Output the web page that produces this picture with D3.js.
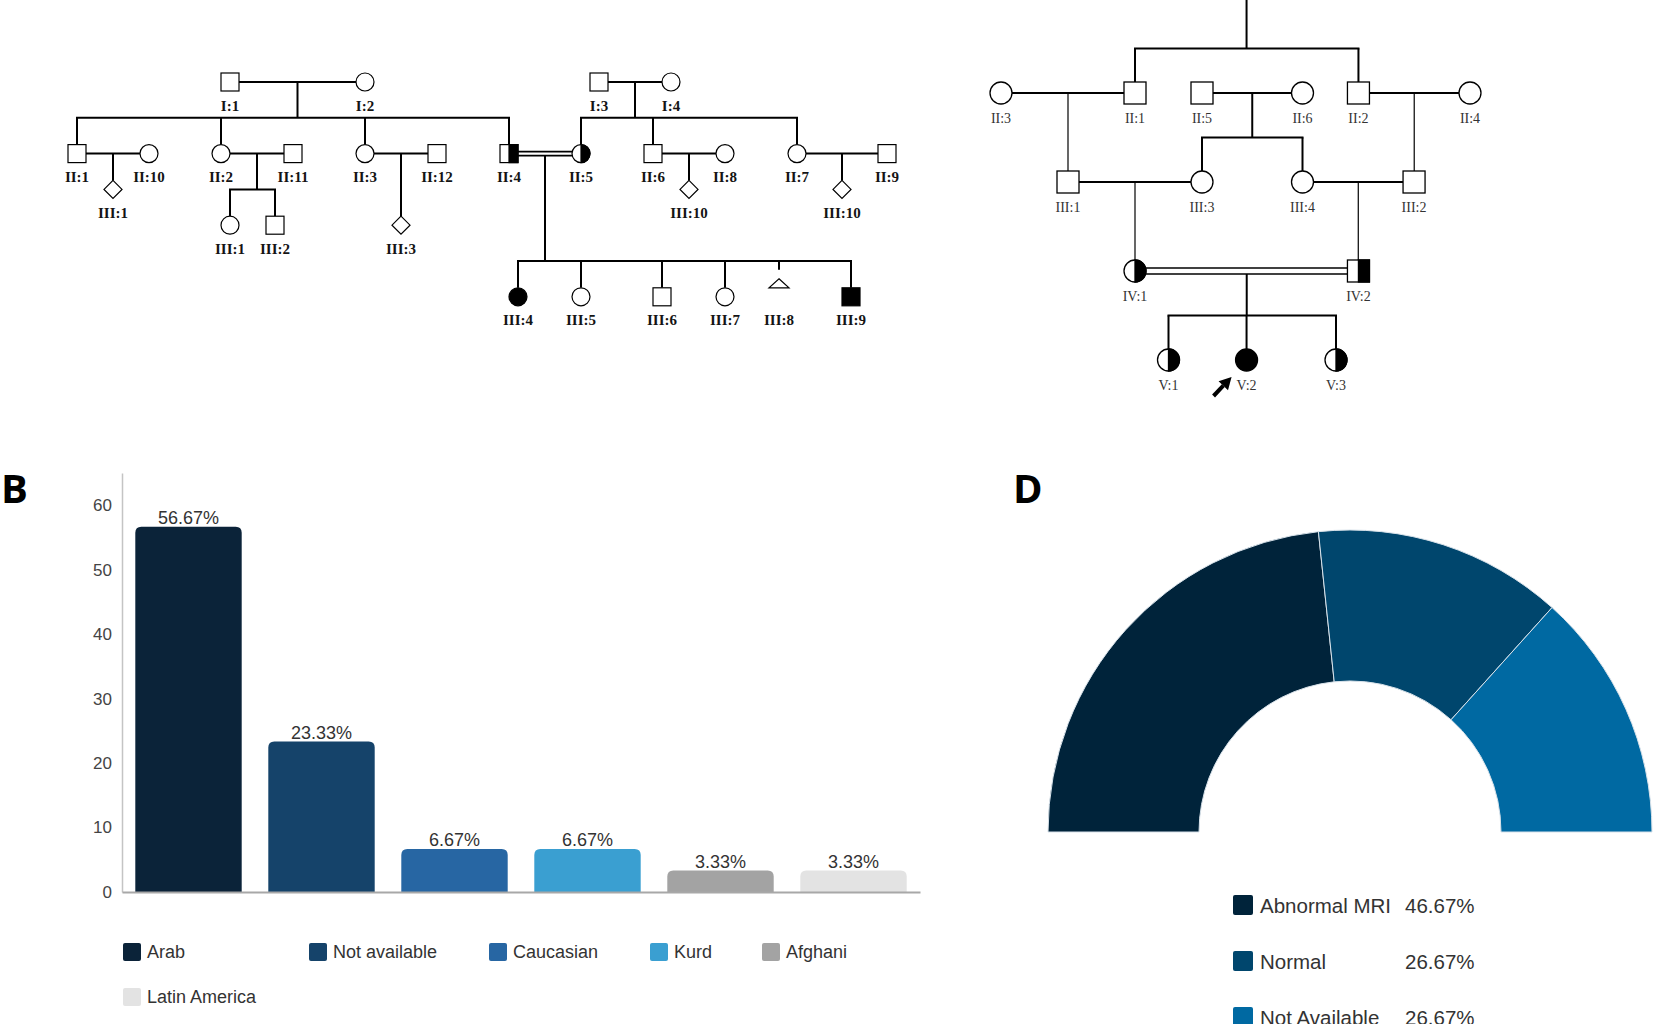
<!DOCTYPE html>
<html><head><meta charset="utf-8">
<script src="https://cdn.jsdelivr.net/npm/d3@7"></script>
<style>body{margin:0;background:#fff}svg{display:block}</style>
</head><body>
<svg id="c" width="1665" height="1024"></svg>
<script>
// ================= DATA =================
// Pedigree A (sex: m/f/u=unknown/p=pregnancy loss; status: n/a=affected/c=carrier)
const pedA_people = [
  {key:'I1',label:'I:1',sex:'m',status:'n',col:4.25,row:0},
  {key:'I2',label:'I:2',sex:'f',status:'n',col:8,row:0},
  {key:'I3',label:'I:3',sex:'m',status:'n',col:14.5,row:0},
  {key:'I4',label:'I:4',sex:'f',status:'n',col:16.5,row:0},
  {key:'II1',label:'II:1',sex:'m',status:'n',col:0,row:2},
  {key:'II10',label:'II:10',sex:'f',status:'n',col:2,row:2},
  {key:'II2',label:'II:2',sex:'f',status:'n',col:4,row:2},
  {key:'II11',label:'II:11',sex:'m',status:'n',col:6,row:2},
  {key:'II3',label:'II:3',sex:'f',status:'n',col:8,row:2},
  {key:'II12',label:'II:12',sex:'m',status:'n',col:10,row:2},
  {key:'II4',label:'II:4',sex:'m',status:'c',col:12,row:2},
  {key:'II5',label:'II:5',sex:'f',status:'c',col:14,row:2},
  {key:'II6',label:'II:6',sex:'m',status:'n',col:16,row:2},
  {key:'II8',label:'II:8',sex:'f',status:'n',col:18,row:2},
  {key:'II7',label:'II:7',sex:'f',status:'n',col:20,row:2},
  {key:'II9',label:'II:9',sex:'m',status:'n',col:22.5,row:2},
  {key:'III1d',label:'III:1',sex:'u',status:'n',col:1,row:3},
  {key:'III1',label:'III:1',sex:'f',status:'n',col:4.25,row:4},
  {key:'III2',label:'III:2',sex:'m',status:'n',col:5.5,row:4},
  {key:'III3',label:'III:3',sex:'u',status:'n',col:9,row:4},
  {key:'III10a',label:'III:10',sex:'u',status:'n',col:17,row:3},
  {key:'III10b',label:'III:10',sex:'u',status:'n',col:21.25,row:3},
  {key:'III4',label:'III:4',sex:'f',status:'a',col:12.25,row:6},
  {key:'III5',label:'III:5',sex:'f',status:'n',col:14,row:6},
  {key:'III6',label:'III:6',sex:'m',status:'n',col:16.25,row:6},
  {key:'III7',label:'III:7',sex:'f',status:'n',col:18,row:6},
  {key:'III8',label:'III:8',sex:'p',status:'n',col:19.5,row:6},
  {key:'III9',label:'III:9',sex:'m',status:'a',col:21.5,row:6}
];
const pedA_families = [
  {p1:'I1',p2:'I2',kids:['II1','II2','II3','II4'],sibRow:1},
  {p1:'I3',p2:'I4',kids:['II5','II6','II7'],sibRow:1},
  {p1:'II1',p2:'II10',kids:['III1d']},
  {p1:'II2',p2:'II11',kids:['III1','III2'],sibRow:3},
  {p1:'II3',p2:'II12',kids:['III3']},
  {p1:'II4',p2:'II5',kids:['III4','III5','III6','III7','III8','III9'],sibRow:5,consang:true},
  {p1:'II6',p2:'II8',kids:['III10a']},
  {p1:'II7',p2:'II9',kids:['III10b']}
];

// Pedigree C
const pedC_people = [
  {key:'II3',label:'II:3',sex:'f',status:'n',col:0,row:0},
  {key:'II1',label:'II:1',sex:'m',status:'n',col:4,row:0},
  {key:'II5',label:'II:5',sex:'m',status:'n',col:6,row:0},
  {key:'II6',label:'II:6',sex:'f',status:'n',col:9,row:0},
  {key:'II2',label:'II:2',sex:'m',status:'n',col:10.67,row:0},
  {key:'II4',label:'II:4',sex:'f',status:'n',col:14,row:0},
  {key:'III1',label:'III:1',sex:'m',status:'n',col:2,row:2},
  {key:'III3',label:'III:3',sex:'f',status:'n',col:6,row:2},
  {key:'III4',label:'III:4',sex:'f',status:'n',col:9,row:2},
  {key:'III2',label:'III:2',sex:'m',status:'n',col:12.33,row:2},
  {key:'IV1',label:'IV:1',sex:'f',status:'c',col:4,row:4},
  {key:'IV2',label:'IV:2',sex:'m',status:'c',col:10.67,row:4},
  {key:'V1',label:'V:1',sex:'f',status:'c',col:5,row:6},
  {key:'V2',label:'V:2',sex:'f',status:'a',col:7.33,row:6,proband:true},
  {key:'V3',label:'V:3',sex:'f',status:'c',col:10,row:6}
];
const pedC_families = [
  {p1:null,p2:null,dropCol:7.33,dropFromRow:-2.3,kids:['II1','II2'],sibRow:-1},
  {p1:'II3',p2:'II1',kids:['III1']},
  {p1:'II5',p2:'II6',kids:['III3','III4'],sibRow:1},
  {p1:'II2',p2:'II4',kids:['III2']},
  {p1:'III1',p2:'III3',kids:['IV1']},
  {p1:'III4',p2:'III2',kids:['IV2']},
  {p1:'IV1',p2:'IV2',kids:['V1','V2','V3'],sibRow:5,consang:true}
];

// Panel B: ethnicity
const ethnicCats = ['Arab','Not available','Caucasian','Kurd','Afghani','Latin America'];
const ethnicPct = [56.67, 23.33, 6.67, 6.67, 3.33, 3.33];
const ethnicColors = ['#0b2339','#15436a','#2766a3','#3a9fd1','#a3a3a3','#e3e3e3'];
const yTicks = [0,10,20,30,40,50,60];

// Panel D: MRI
const mriCats = ['Abnormal MRI','Normal','Not Available'];
const mriPct = [46.67, 26.67, 26.67];
const mriColors = ['#00233a','#00466d','#0069a2'];

// ================= DRAW =================
const svg = d3.select('#c');
svg.append('rect').attr('width',1665).attr('height',1024).attr('fill','#fff');

function drawPedigree(people, families, cfg){
  const g = svg.append('g');
  const byKey = new Map(people.map(p=>[p.key,p]));
  const X = p=>cfg.x(p.col), Y = p=>cfg.y(p.row);
  const h = cfg.h;
  const top = p => p.sex==='p' ? Y(p)-3*h : Y(p)-h;
  const lines = g.append('g').attr('stroke','#000').attr('fill','none');
  families.forEach(f=>{
    let dropX, dropY;
    if(f.p1){
      const a=byKey.get(f.p1), b=byKey.get(f.p2);
      const x1=Math.min(X(a),X(b))+h, x2=Math.max(X(a),X(b))-h, yy=Y(a);
      if(f.consang){
        [-cfg.gap,cfg.gap].forEach(o=>lines.append('line').attr('x1',x1).attr('x2',x2)
          .attr('y1',yy+o).attr('y2',yy+o).attr('stroke-width',cfg.lwD));
        dropY = yy+cfg.gap;
      } else {
        lines.append('line').attr('x1',x1).attr('x2',x2).attr('y1',yy).attr('y2',yy).attr('stroke-width',cfg.lw);
        dropY = yy;
      }
      dropX = (X(a)+X(b))/2;
    } else {
      dropX = cfg.x(f.dropCol); dropY = cfg.y(f.dropFromRow);
    }
    const kids = f.kids.map(k=>byKey.get(k));
    if(f.sibRow!==undefined){
      const sy = cfg.y(f.sibRow);
      lines.append('line').attr('x1',dropX).attr('x2',dropX).attr('y1',dropY).attr('y2',sy).attr('stroke-width',cfg.lw);
      const xs = kids.map(X).concat([dropX]);
      lines.append('line').attr('x1',d3.min(xs)-cfg.lw/2).attr('x2',d3.max(xs)+cfg.lw/2).attr('y1',sy).attr('y2',sy).attr('stroke-width',cfg.lw);
      kids.forEach(k=>lines.append('line').attr('x1',X(k)).attr('x2',X(k)).attr('y1',sy).attr('y2',top(k)).attr('stroke-width',cfg.lw));
    } else {
      const k = kids[0];
      lines.append('line').attr('x1',dropX).attr('x2',dropX).attr('y1',dropY).attr('y2',top(k)).attr('stroke-width',cfg.lwThin);
    }
  });
  const syms = g.append('g').attr('stroke','#000').attr('stroke-width',cfg.sw);
  people.forEach(p=>{
    const x=X(p), y=Y(p);
    const fill = p.status==='a' ? '#000' : '#fff';
    if(p.sex==='m'){
      syms.append('rect').attr('x',x-h).attr('y',y-h).attr('width',2*h).attr('height',2*h).attr('fill',fill);
      if(p.status==='c') syms.append('rect').attr('x',x).attr('y',y-h).attr('width',h).attr('height',2*h).attr('fill','#000');
    } else if(p.sex==='f'){
      syms.append('circle').attr('cx',x).attr('cy',y).attr('r',h).attr('fill',fill);
      if(p.status==='c') syms.append('path').attr('d',`M${x},${y-h}A${h},${h} 0 0 1 ${x},${y+h}Z`).attr('fill','#000');
    } else if(p.sex==='u'){
      syms.append('path').attr('d',`M${x},${y-h}L${x+h},${y}L${x},${y+h}L${x-h},${y}Z`).attr('fill','#fff');
    } else if(p.sex==='p'){
      syms.append('path').attr('d',`M${x},${y-2*h}L${x+h+1},${y-h}L${x-h-1},${y-h}Z`).attr('fill','#fff');
    }
    g.append('text').attr('x',x).attr('y',y+cfg.labelDy).attr('text-anchor','middle')
      .attr('dominant-baseline','central').attr('font-family','"Liberation Serif","Times New Roman",serif')
      .attr('font-size',cfg.fs).attr('font-weight',cfg.fw).attr('fill',cfg.tc).text(p.label);
    if(p.proband){
      const tx=x-33, ty=y+36, hx=x-15, hy=y+17;
      const ang=Math.atan2(hy-ty,hx-tx), L=12, Wd=6.5;
      const bx=hx-L*Math.cos(ang), by=hy-L*Math.sin(ang);
      g.append('line').attr('x1',tx).attr('y1',ty).attr('x2',bx).attr('y2',by).attr('stroke','#000').attr('stroke-width',4);
      g.append('path').attr('d',`M${hx},${hy}L${bx+Wd*Math.sin(ang)},${by-Wd*Math.cos(ang)}L${bx-Wd*Math.sin(ang)},${by+Wd*Math.cos(ang)}Z`).attr('fill','#000');
    }
  });
}

drawPedigree(pedA_people, pedA_families, {
  x:d3.scaleLinear().domain([0,1]).range([77,113]),
  y:d3.scaleLinear().domain([0,1]).range([82,117.8]),
  h:9, lw:2, lwThin:2, lwD:1.6, gap:2, sw:1.2, fs:15, fw:'bold', labelDy:23.5, tc:'#141414'
});
drawPedigree(pedC_people, pedC_families, {
  x:d3.scaleLinear().domain([0,1]).range([1001,1034.5]),
  y:d3.scaleLinear().domain([0,1]).range([93,137.5]),
  h:11, lw:2, lwThin:1.2, lwD:1.6, gap:3, sw:1.3, fs:14, fw:'normal', labelDy:25.5, tc:'#333'
});

// Panel letters
svg.append('text').attr('x',1).attr('y',503).attr('font-family','"Open Sans",sans-serif').attr('font-weight',700).attr('font-size',40).text('B');
svg.append('text').attr('x',1013).attr('y',503).attr('font-family','"Open Sans",sans-serif').attr('font-weight',700).attr('font-size',40).text('D');

// ----- Bar chart B -----
const sans = '"Liberation Sans",Arial,sans-serif';
const bx = d3.scaleBand().domain(ethnicCats).range([122,920]).paddingInner(0.2).paddingOuter(0.1);
const by = d3.scaleLinear().domain([0,65]).range([892,473]);
const bars = ethnicCats.map((c,i)=>({c,v:ethnicPct[i],col:ethnicColors[i]}));
const gB = svg.append('g');
const yAx = gB.append('g').attr('transform','translate(122,0)').call(d3.axisLeft(by).tickValues(yTicks).tickSize(0).tickPadding(10).tickFormat(d3.format('d')));
yAx.select('.domain').attr('stroke','#c4c4c4').attr('stroke-width',1.5);
yAx.selectAll('text').attr('font-family',sans).attr('font-size',17).attr('fill','#444');
function topRounded(x,y,w,hgt,r){
  r=Math.min(r,hgt);
  return `M${x},${y+hgt}V${y+r}Q${x},${y} ${x+r},${y}H${x+w-r}Q${x+w},${y} ${x+w},${y+r}V${y+hgt}Z`;
}
gB.selectAll('path.bar').data(bars).join('path').attr('class','bar')
  .attr('d',d=>topRounded(bx(d.c),by(d.v),bx.bandwidth(),by(0)-by(d.v),6)).attr('fill',d=>d.col);
gB.selectAll('text.lbl').data(bars).join('text').attr('class','lbl')
  .attr('x',d=>bx(d.c)+bx.bandwidth()/2).attr('y',d=>by(d.v)-3).attr('text-anchor','middle')
  .attr('font-family',sans).attr('font-size',18).attr('fill','#333').text(d=>d.v.toFixed(2)+'%');
const xAx = gB.append('g').attr('transform','translate(0,892)').call(d3.axisBottom(bx).tickSize(0).tickFormat(''));
xAx.select('.domain').attr('stroke','#a8a8a8').attr('stroke-width',2);

// legend B (layout positions)
const legBpos = [[123,952],[309,952],[489,952],[650,952],[762,952],[123,997]];
bars.forEach((d,i)=>{
  const [lx,ly]=legBpos[i];
  gB.append('rect').attr('x',lx).attr('y',ly-9).attr('width',18).attr('height',18).attr('rx',2).attr('fill',d.col);
  gB.append('text').attr('x',lx+24).attr('y',ly).attr('dominant-baseline','central')
    .attr('font-family',sans).attr('font-size',18).attr('fill','#333').text(d.c);
});

// ----- Half donut D -----
const cx=1350, cy=832;
const pie = d3.pie().sort(null).startAngle(-Math.PI/2).endAngle(Math.PI/2);
const arc = d3.arc().innerRadius(151).outerRadius(302);
const gD = svg.append('g').attr('transform',`translate(${cx},${cy})`);
gD.selectAll('path').data(pie(mriPct)).join('path').attr('d',arc)
  .attr('fill',(d,i)=>mriColors[i]).attr('stroke','#d8e2ea').attr('stroke-width',1);

const legDy = [905,961,1017];
mriCats.forEach((c,i)=>{
  svg.append('rect').attr('x',1233).attr('y',legDy[i]-10).attr('width',20).attr('height',20).attr('rx',2).attr('fill',mriColors[i]);
  svg.append('text').attr('x',1260).attr('y',legDy[i]).attr('dominant-baseline','central')
    .attr('font-family',sans).attr('font-size',20.5).attr('fill','#333').text(c);
  svg.append('text').attr('x',1405).attr('y',legDy[i]).attr('dominant-baseline','central')
    .attr('font-family',sans).attr('font-size',20.5).attr('fill','#333').text(mriPct[i].toFixed(2)+'%');
});
</script>
</body></html>
